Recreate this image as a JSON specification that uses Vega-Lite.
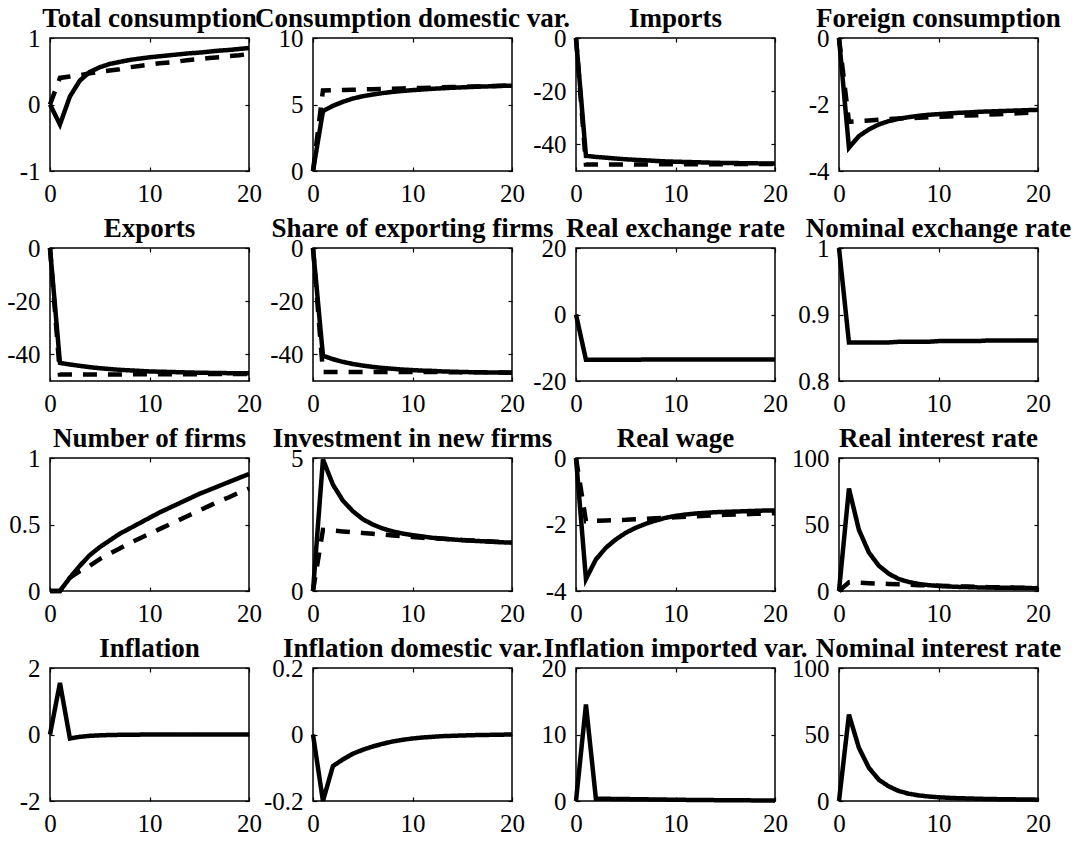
{
"$schema": "https://vega.github.io/schema/vega-lite/v6.json",
"padding": {"left": 5, "top": 4, "right": 0, "bottom": 0},
"columns": 4,
"spacing": {"row": 77, "column": 64},
"bounds": "flush",
"config": {
 "view": {"stroke": "black", "strokeWidth": 1.5},
 "axis": {"domain": false, "grid": false, "tickSize": -4, "tickColor": "black", "tickWidth": 1.2, "labelFont": "Times New Roman, Liberation Serif, serif", "labelFontSize": 25, "labelColor": "black", "labelPadding": 14, "labelOverlap": false, "labelFlush": false},
 "title": {"font": "Times New Roman, Liberation Serif, serif", "fontSize": 27, "fontWeight": "bold", "color": "black", "frame": "group", "baseline": "alphabetic", "offset": -7},
 "line": {"color": "black", "strokeWidth": 4.5}
},
"concat": [
{"title": "Total consumption", "width": 199, "height": 133,
 "data": {"values": [
 {"t":0,"a":0,"b":0},{"t":1,"a":-0.3,"b":0.4},{"t":2,"a":0.12,"b":0.42},{"t":3,"a":0.36,"b":0.44},{"t":4,"a":0.49,"b":0.47},{"t":5,"a":0.56,"b":0.49},{"t":6,"a":0.61,"b":0.51},{"t":7,"a":0.64,"b":0.53},{"t":8,"a":0.67,"b":0.56},{"t":9,"a":0.69,"b":0.58},{"t":10,"a":0.71,"b":0.6},{"t":11,"a":0.725,"b":0.62},{"t":12,"a":0.74,"b":0.63},{"t":13,"a":0.755,"b":0.65},{"t":14,"a":0.77,"b":0.67},{"t":15,"a":0.78,"b":0.68},{"t":16,"a":0.795,"b":0.7},{"t":17,"a":0.81,"b":0.71},{"t":18,"a":0.82,"b":0.73},{"t":19,"a":0.835,"b":0.74},{"t":20,"a":0.85,"b":0.76}]},
 "transform": [{"fold": ["a","b"], "as": ["s","v"]}],
 "layer": [
  {"mark": {"type": "line", "clip": false}, "encoding": {
   "x": {"field": "t", "type": "quantitative", "title": null, "scale": {"domain": [0,20], "nice": false}, "axis": {"values": [0,10,20], "orient": "bottom", "labelExpr": "'' + datum.value"}},
   "y": {"field": "v", "type": "quantitative", "title": null, "scale": {"domain": [-1,1], "nice": false, "zero": false}, "axis": {"values": [-1,0,1], "orient": "left", "labelExpr": "'' + datum.value"}},
   "strokeDash": {"field": "s", "type": "nominal", "legend": null, "scale": {"domain": ["a","b"], "range": [[1,0],[14,11]]}}}},
  {"mark": {"type": "line", "opacity": 0}, "encoding": {
   "x": {"field": "t", "type": "quantitative", "title": null, "axis": {"values": [0,10,20], "orient": "top", "labels": false}},
   "y": {"field": "v", "type": "quantitative", "title": null, "axis": {"values": [-1,0,1], "orient": "right", "labels": false}}}}
 ],
 "resolve": {"axis": {"x": "independent", "y": "independent"}}},
{"title": "Consumption domestic var.", "width": 199, "height": 133,
 "data": {"values": [
 {"t":0,"a":0,"b":0},{"t":1,"a":4.5,"b":6.05},{"t":2,"a":4.9,"b":6.07},{"t":3,"a":5.2,"b":6.09},{"t":4,"a":5.45,"b":6.11},{"t":5,"a":5.62,"b":6.13},{"t":6,"a":5.75,"b":6.15},{"t":7,"a":5.86,"b":6.17},{"t":8,"a":5.95,"b":6.19},{"t":9,"a":6.02,"b":6.21},{"t":10,"a":6.08,"b":6.23},{"t":11,"a":6.13,"b":6.25},{"t":12,"a":6.18,"b":6.27},{"t":13,"a":6.22,"b":6.29},{"t":14,"a":6.26,"b":6.31},{"t":15,"a":6.29,"b":6.33},{"t":16,"a":6.32,"b":6.35},{"t":17,"a":6.35,"b":6.37},{"t":18,"a":6.37,"b":6.39},{"t":19,"a":6.4,"b":6.41},{"t":20,"a":6.42,"b":6.43}]},
 "transform": [{"fold": ["a","b"], "as": ["s","v"]}],
 "layer": [
  {"mark": {"type": "line", "clip": false}, "encoding": {
   "x": {"field": "t", "type": "quantitative", "title": null, "scale": {"domain": [0,20], "nice": false}, "axis": {"values": [0,10,20], "orient": "bottom", "labelExpr": "'' + datum.value"}},
   "y": {"field": "v", "type": "quantitative", "title": null, "scale": {"domain": [0,10], "nice": false, "zero": false}, "axis": {"values": [0,5,10], "orient": "left", "labelExpr": "'' + datum.value"}},
   "strokeDash": {"field": "s", "type": "nominal", "legend": null, "scale": {"domain": ["a","b"], "range": [[1,0],[14,11]]}}}},
  {"mark": {"type": "line", "opacity": 0}, "encoding": {
   "x": {"field": "t", "type": "quantitative", "title": null, "axis": {"values": [0,10,20], "orient": "top", "labels": false}},
   "y": {"field": "v", "type": "quantitative", "title": null, "axis": {"values": [0,5,10], "orient": "right", "labels": false}}}}
 ],
 "resolve": {"axis": {"x": "independent", "y": "independent"}}},
{"title": "Imports", "width": 199, "height": 133,
 "data": {"values": [
 {"t":0,"a":0,"b":0},{"t":1,"a":-44.3,"b":-47.6},{"t":2,"a":-44.7,"b":-47.6},{"t":3,"a":-45.0,"b":-47.6},{"t":4,"a":-45.3,"b":-47.6},{"t":5,"a":-45.6,"b":-47.6},{"t":6,"a":-45.8,"b":-47.6},{"t":7,"a":-46.0,"b":-47.6},{"t":8,"a":-46.2,"b":-47.5},{"t":9,"a":-46.4,"b":-47.5},{"t":10,"a":-46.5,"b":-47.5},{"t":11,"a":-46.6,"b":-47.5},{"t":12,"a":-46.7,"b":-47.5},{"t":13,"a":-46.8,"b":-47.5},{"t":14,"a":-46.9,"b":-47.5},{"t":15,"a":-47.0,"b":-47.4},{"t":16,"a":-47.0,"b":-47.4},{"t":17,"a":-47.1,"b":-47.4},{"t":18,"a":-47.1,"b":-47.4},{"t":19,"a":-47.2,"b":-47.4},{"t":20,"a":-47.2,"b":-47.4}]},
 "transform": [{"fold": ["a","b"], "as": ["s","v"]}],
 "layer": [
  {"mark": {"type": "line", "clip": false}, "encoding": {
   "x": {"field": "t", "type": "quantitative", "title": null, "scale": {"domain": [0,20], "nice": false}, "axis": {"values": [0,10,20], "orient": "bottom", "labelExpr": "'' + datum.value"}},
   "y": {"field": "v", "type": "quantitative", "title": null, "scale": {"domain": [-50,0], "nice": false, "zero": false}, "axis": {"values": [-40,-20,0], "orient": "left", "labelExpr": "'' + datum.value"}},
   "strokeDash": {"field": "s", "type": "nominal", "legend": null, "scale": {"domain": ["a","b"], "range": [[1,0],[14,11]]}}}},
  {"mark": {"type": "line", "opacity": 0}, "encoding": {
   "x": {"field": "t", "type": "quantitative", "title": null, "axis": {"values": [0,10,20], "orient": "top", "labels": false}},
   "y": {"field": "v", "type": "quantitative", "title": null, "axis": {"values": [-40,-20,0], "orient": "right", "labels": false}}}}
 ],
 "resolve": {"axis": {"x": "independent", "y": "independent"}}},
{"title": "Foreign consumption", "width": 199, "height": 133,
 "data": {"values": [
 {"t":0,"a":0,"b":0},{"t":1,"a":-3.3,"b":-2.52},{"t":2,"a":-2.95,"b":-2.5},{"t":3,"a":-2.75,"b":-2.48},{"t":4,"a":-2.6,"b":-2.46},{"t":5,"a":-2.5,"b":-2.44},{"t":6,"a":-2.43,"b":-2.42},{"t":7,"a":-2.38,"b":-2.41},{"t":8,"a":-2.34,"b":-2.4},{"t":9,"a":-2.31,"b":-2.38},{"t":10,"a":-2.29,"b":-2.37},{"t":11,"a":-2.27,"b":-2.36},{"t":12,"a":-2.25,"b":-2.34},{"t":13,"a":-2.24,"b":-2.33},{"t":14,"a":-2.22,"b":-2.32},{"t":15,"a":-2.21,"b":-2.3},{"t":16,"a":-2.2,"b":-2.29},{"t":17,"a":-2.19,"b":-2.28},{"t":18,"a":-2.18,"b":-2.26},{"t":19,"a":-2.17,"b":-2.25},{"t":20,"a":-2.16,"b":-2.24}]},
 "transform": [{"fold": ["a","b"], "as": ["s","v"]}],
 "layer": [
  {"mark": {"type": "line", "clip": false}, "encoding": {
   "x": {"field": "t", "type": "quantitative", "title": null, "scale": {"domain": [0,20], "nice": false}, "axis": {"values": [0,10,20], "orient": "bottom", "labelExpr": "'' + datum.value"}},
   "y": {"field": "v", "type": "quantitative", "title": null, "scale": {"domain": [-4,0], "nice": false, "zero": false}, "axis": {"values": [-4,-2,0], "orient": "left", "labelExpr": "'' + datum.value"}},
   "strokeDash": {"field": "s", "type": "nominal", "legend": null, "scale": {"domain": ["a","b"], "range": [[1,0],[14,11]]}}}},
  {"mark": {"type": "line", "opacity": 0}, "encoding": {
   "x": {"field": "t", "type": "quantitative", "title": null, "axis": {"values": [0,10,20], "orient": "top", "labels": false}},
   "y": {"field": "v", "type": "quantitative", "title": null, "axis": {"values": [-4,-2,0], "orient": "right", "labels": false}}}}
 ],
 "resolve": {"axis": {"x": "independent", "y": "independent"}}},
{"title": "Exports", "width": 199, "height": 133,
 "data": {"values": [
 {"t":0,"a":0,"b":0},{"t":1,"a":-43.2,"b":-47.6},{"t":2,"a":-43.8,"b":-47.6},{"t":3,"a":-44.3,"b":-47.6},{"t":4,"a":-44.8,"b":-47.6},{"t":5,"a":-45.2,"b":-47.6},{"t":6,"a":-45.5,"b":-47.6},{"t":7,"a":-45.8,"b":-47.6},{"t":8,"a":-46.0,"b":-47.5},{"t":9,"a":-46.2,"b":-47.5},{"t":10,"a":-46.4,"b":-47.5},{"t":11,"a":-46.5,"b":-47.5},{"t":12,"a":-46.6,"b":-47.5},{"t":13,"a":-46.7,"b":-47.5},{"t":14,"a":-46.8,"b":-47.5},{"t":15,"a":-46.9,"b":-47.4},{"t":16,"a":-46.95,"b":-47.4},{"t":17,"a":-47.0,"b":-47.4},{"t":18,"a":-47.05,"b":-47.4},{"t":19,"a":-47.1,"b":-47.4},{"t":20,"a":-47.1,"b":-47.4}]},
 "transform": [{"fold": ["a","b"], "as": ["s","v"]}],
 "layer": [
  {"mark": {"type": "line", "clip": false}, "encoding": {
   "x": {"field": "t", "type": "quantitative", "title": null, "scale": {"domain": [0,20], "nice": false}, "axis": {"values": [0,10,20], "orient": "bottom", "labelExpr": "'' + datum.value"}},
   "y": {"field": "v", "type": "quantitative", "title": null, "scale": {"domain": [-50,0], "nice": false, "zero": false}, "axis": {"values": [-40,-20,0], "orient": "left", "labelExpr": "'' + datum.value"}},
   "strokeDash": {"field": "s", "type": "nominal", "legend": null, "scale": {"domain": ["a","b"], "range": [[1,0],[14,11]]}}}},
  {"mark": {"type": "line", "opacity": 0}, "encoding": {
   "x": {"field": "t", "type": "quantitative", "title": null, "axis": {"values": [0,10,20], "orient": "top", "labels": false}},
   "y": {"field": "v", "type": "quantitative", "title": null, "axis": {"values": [-40,-20,0], "orient": "right", "labels": false}}}}
 ],
 "resolve": {"axis": {"x": "independent", "y": "independent"}}},
{"title": "Share of exporting firms", "width": 199, "height": 133,
 "data": {"values": [
 {"t":0,"a":0,"b":0},{"t":1,"a":-40.5,"b":-46.6},{"t":2,"a":-41.8,"b":-46.6},{"t":3,"a":-42.8,"b":-46.6},{"t":4,"a":-43.6,"b":-46.6},{"t":5,"a":-44.2,"b":-46.6},{"t":6,"a":-44.7,"b":-46.6},{"t":7,"a":-45.1,"b":-46.6},{"t":8,"a":-45.4,"b":-46.6},{"t":9,"a":-45.7,"b":-46.6},{"t":10,"a":-45.9,"b":-46.6},{"t":11,"a":-46.1,"b":-46.6},{"t":12,"a":-46.2,"b":-46.6},{"t":13,"a":-46.4,"b":-46.7},{"t":14,"a":-46.5,"b":-46.7},{"t":15,"a":-46.6,"b":-46.7},{"t":16,"a":-46.7,"b":-46.7},{"t":17,"a":-46.75,"b":-46.7},{"t":18,"a":-46.8,"b":-46.7},{"t":19,"a":-46.85,"b":-46.8},{"t":20,"a":-46.9,"b":-46.8}]},
 "transform": [{"fold": ["a","b"], "as": ["s","v"]}],
 "layer": [
  {"mark": {"type": "line", "clip": false}, "encoding": {
   "x": {"field": "t", "type": "quantitative", "title": null, "scale": {"domain": [0,20], "nice": false}, "axis": {"values": [0,10,20], "orient": "bottom", "labelExpr": "'' + datum.value"}},
   "y": {"field": "v", "type": "quantitative", "title": null, "scale": {"domain": [-50,0], "nice": false, "zero": false}, "axis": {"values": [-40,-20,0], "orient": "left", "labelExpr": "'' + datum.value"}},
   "strokeDash": {"field": "s", "type": "nominal", "legend": null, "scale": {"domain": ["a","b"], "range": [[1,0],[14,11]]}}}},
  {"mark": {"type": "line", "opacity": 0}, "encoding": {
   "x": {"field": "t", "type": "quantitative", "title": null, "axis": {"values": [0,10,20], "orient": "top", "labels": false}},
   "y": {"field": "v", "type": "quantitative", "title": null, "axis": {"values": [-40,-20,0], "orient": "right", "labels": false}}}}
 ],
 "resolve": {"axis": {"x": "independent", "y": "independent"}}},
{"title": "Real exchange rate", "width": 199, "height": 133,
 "data": {"values": [
 {"t":0,"a":0},{"t":1,"a":-13.6},{"t":2,"a":-13.6},{"t":3,"a":-13.6},{"t":4,"a":-13.6},{"t":5,"a":-13.6},{"t":6,"a":-13.6},{"t":7,"a":-13.55},{"t":8,"a":-13.55},{"t":9,"a":-13.55},{"t":10,"a":-13.5},{"t":11,"a":-13.5},{"t":12,"a":-13.5},{"t":13,"a":-13.5},{"t":14,"a":-13.5},{"t":15,"a":-13.5},{"t":16,"a":-13.5},{"t":17,"a":-13.5},{"t":18,"a":-13.5},{"t":19,"a":-13.5},{"t":20,"a":-13.5}]},
 "transform": [{"fold": ["a","b"], "as": ["s","v"]}],
 "layer": [
  {"mark": {"type": "line", "clip": false}, "encoding": {
   "x": {"field": "t", "type": "quantitative", "title": null, "scale": {"domain": [0,20], "nice": false}, "axis": {"values": [0,10,20], "orient": "bottom", "labelExpr": "'' + datum.value"}},
   "y": {"field": "v", "type": "quantitative", "title": null, "scale": {"domain": [-20,20], "nice": false, "zero": false}, "axis": {"values": [-20,0,20], "orient": "left", "labelExpr": "'' + datum.value"}},
   "strokeDash": {"field": "s", "type": "nominal", "legend": null, "scale": {"domain": ["a","b"], "range": [[1,0],[14,11]]}}}},
  {"mark": {"type": "line", "opacity": 0}, "encoding": {
   "x": {"field": "t", "type": "quantitative", "title": null, "axis": {"values": [0,10,20], "orient": "top", "labels": false}},
   "y": {"field": "v", "type": "quantitative", "title": null, "axis": {"values": [-20,0,20], "orient": "right", "labels": false}}}}
 ],
 "resolve": {"axis": {"x": "independent", "y": "independent"}}},
{"title": "Nominal exchange rate", "width": 199, "height": 133,
 "data": {"values": [
 {"t":0,"a":1},{"t":1,"a":0.858},{"t":2,"a":0.858},{"t":3,"a":0.858},{"t":4,"a":0.858},{"t":5,"a":0.858},{"t":6,"a":0.859},{"t":7,"a":0.859},{"t":8,"a":0.859},{"t":9,"a":0.859},{"t":10,"a":0.86},{"t":11,"a":0.86},{"t":12,"a":0.86},{"t":13,"a":0.86},{"t":14,"a":0.86},{"t":15,"a":0.861},{"t":16,"a":0.861},{"t":17,"a":0.861},{"t":18,"a":0.861},{"t":19,"a":0.861},{"t":20,"a":0.861}]},
 "transform": [{"fold": ["a","b"], "as": ["s","v"]}],
 "layer": [
  {"mark": {"type": "line", "clip": false}, "encoding": {
   "x": {"field": "t", "type": "quantitative", "title": null, "scale": {"domain": [0,20], "nice": false}, "axis": {"values": [0,10,20], "orient": "bottom", "labelExpr": "'' + datum.value"}},
   "y": {"field": "v", "type": "quantitative", "title": null, "scale": {"domain": [0.8,1], "nice": false, "zero": false}, "axis": {"values": [0.8,0.9,1], "orient": "left", "labelExpr": "'' + datum.value"}},
   "strokeDash": {"field": "s", "type": "nominal", "legend": null, "scale": {"domain": ["a","b"], "range": [[1,0],[14,11]]}}}},
  {"mark": {"type": "line", "opacity": 0}, "encoding": {
   "x": {"field": "t", "type": "quantitative", "title": null, "axis": {"values": [0,10,20], "orient": "top", "labels": false}},
   "y": {"field": "v", "type": "quantitative", "title": null, "axis": {"values": [0.8,0.9,1], "orient": "right", "labels": false}}}}
 ],
 "resolve": {"axis": {"x": "independent", "y": "independent"}}},
{"title": "Number of firms", "width": 199, "height": 133,
 "data": {"values": [
 {"t":0,"a":0,"b":0},{"t":1,"a":0,"b":0},{"t":2,"a":0.1,"b":0.1},{"t":3,"a":0.19,"b":0.15},{"t":4,"a":0.27,"b":0.19},{"t":5,"a":0.33,"b":0.24},{"t":6,"a":0.38,"b":0.28},{"t":7,"a":0.43,"b":0.32},{"t":8,"a":0.47,"b":0.36},{"t":9,"a":0.51,"b":0.395},{"t":10,"a":0.55,"b":0.43},{"t":11,"a":0.59,"b":0.465},{"t":12,"a":0.625,"b":0.5},{"t":13,"a":0.66,"b":0.535},{"t":14,"a":0.695,"b":0.57},{"t":15,"a":0.73,"b":0.605},{"t":16,"a":0.76,"b":0.64},{"t":17,"a":0.79,"b":0.675},{"t":18,"a":0.82,"b":0.705},{"t":19,"a":0.85,"b":0.74},{"t":20,"a":0.88,"b":0.77}]},
 "transform": [{"fold": ["a","b"], "as": ["s","v"]}],
 "layer": [
  {"mark": {"type": "line", "clip": false}, "encoding": {
   "x": {"field": "t", "type": "quantitative", "title": null, "scale": {"domain": [0,20], "nice": false}, "axis": {"values": [0,10,20], "orient": "bottom", "labelExpr": "'' + datum.value"}},
   "y": {"field": "v", "type": "quantitative", "title": null, "scale": {"domain": [0,1], "nice": false, "zero": false}, "axis": {"values": [0,0.5,1], "orient": "left", "labelExpr": "'' + datum.value"}},
   "strokeDash": {"field": "s", "type": "nominal", "legend": null, "scale": {"domain": ["a","b"], "range": [[1,0],[14,11]]}}}},
  {"mark": {"type": "line", "opacity": 0}, "encoding": {
   "x": {"field": "t", "type": "quantitative", "title": null, "axis": {"values": [0,10,20], "orient": "top", "labels": false}},
   "y": {"field": "v", "type": "quantitative", "title": null, "axis": {"values": [0,0.5,1], "orient": "right", "labels": false}}}}
 ],
 "resolve": {"axis": {"x": "independent", "y": "independent"}}},
{"title": "Investment in new firms", "width": 199, "height": 133,
 "data": {"values": [
 {"t":0,"a":0,"b":0},{"t":1,"a":4.95,"b":2.3},{"t":2,"a":4.0,"b":2.27},{"t":3,"a":3.4,"b":2.24},{"t":4,"a":3.0,"b":2.21},{"t":5,"a":2.7,"b":2.18},{"t":6,"a":2.5,"b":2.15},{"t":7,"a":2.35,"b":2.12},{"t":8,"a":2.24,"b":2.09},{"t":9,"a":2.16,"b":2.06},{"t":10,"a":2.1,"b":2.03},{"t":11,"a":2.05,"b":2.0},{"t":12,"a":2.0,"b":1.98},{"t":13,"a":1.97,"b":1.96},{"t":14,"a":1.94,"b":1.94},{"t":15,"a":1.91,"b":1.92},{"t":16,"a":1.89,"b":1.9},{"t":17,"a":1.87,"b":1.88},{"t":18,"a":1.85,"b":1.86},{"t":19,"a":1.83,"b":1.84},{"t":20,"a":1.82,"b":1.82}]},
 "transform": [{"fold": ["a","b"], "as": ["s","v"]}],
 "layer": [
  {"mark": {"type": "line", "clip": false}, "encoding": {
   "x": {"field": "t", "type": "quantitative", "title": null, "scale": {"domain": [0,20], "nice": false}, "axis": {"values": [0,10,20], "orient": "bottom", "labelExpr": "'' + datum.value"}},
   "y": {"field": "v", "type": "quantitative", "title": null, "scale": {"domain": [0,5], "nice": false, "zero": false}, "axis": {"values": [0,5], "orient": "left", "labelExpr": "'' + datum.value"}},
   "strokeDash": {"field": "s", "type": "nominal", "legend": null, "scale": {"domain": ["a","b"], "range": [[1,0],[14,11]]}}}},
  {"mark": {"type": "line", "opacity": 0}, "encoding": {
   "x": {"field": "t", "type": "quantitative", "title": null, "axis": {"values": [0,10,20], "orient": "top", "labels": false}},
   "y": {"field": "v", "type": "quantitative", "title": null, "axis": {"values": [0,5], "orient": "right", "labels": false}}}}
 ],
 "resolve": {"axis": {"x": "independent", "y": "independent"}}},
{"title": "Real wage", "width": 199, "height": 133,
 "data": {"values": [
 {"t":0,"a":0,"b":0},{"t":1,"a":-3.64,"b":-1.9},{"t":2,"a":-3.05,"b":-1.89},{"t":3,"a":-2.7,"b":-1.88},{"t":4,"a":-2.45,"b":-1.87},{"t":5,"a":-2.25,"b":-1.86},{"t":6,"a":-2.1,"b":-1.84},{"t":7,"a":-1.98,"b":-1.83},{"t":8,"a":-1.88,"b":-1.81},{"t":9,"a":-1.8,"b":-1.8},{"t":10,"a":-1.74,"b":-1.78},{"t":11,"a":-1.7,"b":-1.77},{"t":12,"a":-1.67,"b":-1.75},{"t":13,"a":-1.65,"b":-1.74},{"t":14,"a":-1.63,"b":-1.72},{"t":15,"a":-1.62,"b":-1.71},{"t":16,"a":-1.61,"b":-1.7},{"t":17,"a":-1.6,"b":-1.69},{"t":18,"a":-1.59,"b":-1.68},{"t":19,"a":-1.58,"b":-1.67},{"t":20,"a":-1.58,"b":-1.66}]},
 "transform": [{"fold": ["a","b"], "as": ["s","v"]}],
 "layer": [
  {"mark": {"type": "line", "clip": false}, "encoding": {
   "x": {"field": "t", "type": "quantitative", "title": null, "scale": {"domain": [0,20], "nice": false}, "axis": {"values": [0,10,20], "orient": "bottom", "labelExpr": "'' + datum.value"}},
   "y": {"field": "v", "type": "quantitative", "title": null, "scale": {"domain": [-4,0], "nice": false, "zero": false}, "axis": {"values": [-4,-2,0], "orient": "left", "labelExpr": "'' + datum.value"}},
   "strokeDash": {"field": "s", "type": "nominal", "legend": null, "scale": {"domain": ["a","b"], "range": [[1,0],[14,11]]}}}},
  {"mark": {"type": "line", "opacity": 0}, "encoding": {
   "x": {"field": "t", "type": "quantitative", "title": null, "axis": {"values": [0,10,20], "orient": "top", "labels": false}},
   "y": {"field": "v", "type": "quantitative", "title": null, "axis": {"values": [-4,-2,0], "orient": "right", "labels": false}}}}
 ],
 "resolve": {"axis": {"x": "independent", "y": "independent"}}},
{"title": "Real interest rate", "width": 199, "height": 133,
 "data": {"values": [
 {"t":0,"a":0,"b":0},{"t":1,"a":77,"b":6.5},{"t":2,"a":46,"b":6.2},{"t":3,"a":29,"b":5.9},{"t":4,"a":19,"b":5.6},{"t":5,"a":13,"b":5.3},{"t":6,"a":9,"b":5.0},{"t":7,"a":6.8,"b":4.7},{"t":8,"a":5.3,"b":4.4},{"t":9,"a":4.4,"b":4.2},{"t":10,"a":3.8,"b":4.0},{"t":11,"a":3.4,"b":3.7},{"t":12,"a":3.1,"b":3.5},{"t":13,"a":2.9,"b":3.3},{"t":14,"a":2.7,"b":3.1},{"t":15,"a":2.6,"b":2.9},{"t":16,"a":2.5,"b":2.8},{"t":17,"a":2.4,"b":2.6},{"t":18,"a":2.3,"b":2.5},{"t":19,"a":2.2,"b":2.3},{"t":20,"a":2.1,"b":2.2}]},
 "transform": [{"fold": ["a","b"], "as": ["s","v"]}],
 "layer": [
  {"mark": {"type": "line", "clip": false}, "encoding": {
   "x": {"field": "t", "type": "quantitative", "title": null, "scale": {"domain": [0,20], "nice": false}, "axis": {"values": [0,10,20], "orient": "bottom", "labelExpr": "'' + datum.value"}},
   "y": {"field": "v", "type": "quantitative", "title": null, "scale": {"domain": [0,100], "nice": false, "zero": false}, "axis": {"values": [0,50,100], "orient": "left", "labelExpr": "'' + datum.value"}},
   "strokeDash": {"field": "s", "type": "nominal", "legend": null, "scale": {"domain": ["a","b"], "range": [[1,0],[14,11]]}}}},
  {"mark": {"type": "line", "opacity": 0}, "encoding": {
   "x": {"field": "t", "type": "quantitative", "title": null, "axis": {"values": [0,10,20], "orient": "top", "labels": false}},
   "y": {"field": "v", "type": "quantitative", "title": null, "axis": {"values": [0,50,100], "orient": "right", "labels": false}}}}
 ],
 "resolve": {"axis": {"x": "independent", "y": "independent"}}},
{"title": "Inflation", "width": 199, "height": 133,
 "data": {"values": [
 {"t":0,"a":0},{"t":1,"a":1.55},{"t":2,"a":-0.12},{"t":3,"a":-0.07},{"t":4,"a":-0.04},{"t":5,"a":-0.025},{"t":6,"a":-0.015},{"t":7,"a":-0.01},{"t":8,"a":-0.006},{"t":9,"a":-0.004},{"t":10,"a":-0.002},{"t":11,"a":-0.001},{"t":12,"a":0},{"t":13,"a":0},{"t":14,"a":0},{"t":15,"a":0},{"t":16,"a":0},{"t":17,"a":0},{"t":18,"a":0},{"t":19,"a":0},{"t":20,"a":0}]},
 "transform": [{"fold": ["a","b"], "as": ["s","v"]}],
 "layer": [
  {"mark": {"type": "line", "clip": false}, "encoding": {
   "x": {"field": "t", "type": "quantitative", "title": null, "scale": {"domain": [0,20], "nice": false}, "axis": {"values": [0,10,20], "orient": "bottom", "labelExpr": "'' + datum.value"}},
   "y": {"field": "v", "type": "quantitative", "title": null, "scale": {"domain": [-2,2], "nice": false, "zero": false}, "axis": {"values": [-2,0,2], "orient": "left", "labelExpr": "'' + datum.value"}},
   "strokeDash": {"field": "s", "type": "nominal", "legend": null, "scale": {"domain": ["a","b"], "range": [[1,0],[14,11]]}}}},
  {"mark": {"type": "line", "opacity": 0}, "encoding": {
   "x": {"field": "t", "type": "quantitative", "title": null, "axis": {"values": [0,10,20], "orient": "top", "labels": false}},
   "y": {"field": "v", "type": "quantitative", "title": null, "axis": {"values": [-2,0,2], "orient": "right", "labels": false}}}}
 ],
 "resolve": {"axis": {"x": "independent", "y": "independent"}}},
{"title": "Inflation domestic var.", "width": 199, "height": 133,
 "data": {"values": [
 {"t":0,"a":0},{"t":1,"a":-0.2},{"t":2,"a":-0.095},{"t":3,"a":-0.075},{"t":4,"a":-0.058},{"t":5,"a":-0.046},{"t":6,"a":-0.036},{"t":7,"a":-0.028},{"t":8,"a":-0.021},{"t":9,"a":-0.016},{"t":10,"a":-0.012},{"t":11,"a":-0.009},{"t":12,"a":-0.007},{"t":13,"a":-0.005},{"t":14,"a":-0.004},{"t":15,"a":-0.003},{"t":16,"a":-0.002},{"t":17,"a":-0.0015},{"t":18,"a":-0.001},{"t":19,"a":-0.0005},{"t":20,"a":0}]},
 "transform": [{"fold": ["a","b"], "as": ["s","v"]}],
 "layer": [
  {"mark": {"type": "line", "clip": false}, "encoding": {
   "x": {"field": "t", "type": "quantitative", "title": null, "scale": {"domain": [0,20], "nice": false}, "axis": {"values": [0,10,20], "orient": "bottom", "labelExpr": "'' + datum.value"}},
   "y": {"field": "v", "type": "quantitative", "title": null, "scale": {"domain": [-0.2,0.2], "nice": false, "zero": false}, "axis": {"values": [-0.2,0,0.2], "orient": "left", "labelExpr": "'' + datum.value"}},
   "strokeDash": {"field": "s", "type": "nominal", "legend": null, "scale": {"domain": ["a","b"], "range": [[1,0],[14,11]]}}}},
  {"mark": {"type": "line", "opacity": 0}, "encoding": {
   "x": {"field": "t", "type": "quantitative", "title": null, "axis": {"values": [0,10,20], "orient": "top", "labels": false}},
   "y": {"field": "v", "type": "quantitative", "title": null, "axis": {"values": [-0.2,0,0.2], "orient": "right", "labels": false}}}}
 ],
 "resolve": {"axis": {"x": "independent", "y": "independent"}}},
{"title": "Inflation imported var.", "width": 199, "height": 133,
 "data": {"values": [
 {"t":0,"a":0},{"t":1,"a":14.5},{"t":2,"a":0.35},{"t":3,"a":0.33},{"t":4,"a":0.31},{"t":5,"a":0.29},{"t":6,"a":0.27},{"t":7,"a":0.25},{"t":8,"a":0.23},{"t":9,"a":0.21},{"t":10,"a":0.19},{"t":11,"a":0.17},{"t":12,"a":0.15},{"t":13,"a":0.14},{"t":14,"a":0.13},{"t":15,"a":0.12},{"t":16,"a":0.11},{"t":17,"a":0.1},{"t":18,"a":0.09},{"t":19,"a":0.08},{"t":20,"a":0.07}]},
 "transform": [{"fold": ["a","b"], "as": ["s","v"]}],
 "layer": [
  {"mark": {"type": "line", "clip": false}, "encoding": {
   "x": {"field": "t", "type": "quantitative", "title": null, "scale": {"domain": [0,20], "nice": false}, "axis": {"values": [0,10,20], "orient": "bottom", "labelExpr": "'' + datum.value"}},
   "y": {"field": "v", "type": "quantitative", "title": null, "scale": {"domain": [0,20], "nice": false, "zero": false}, "axis": {"values": [0,10,20], "orient": "left", "labelExpr": "'' + datum.value"}},
   "strokeDash": {"field": "s", "type": "nominal", "legend": null, "scale": {"domain": ["a","b"], "range": [[1,0],[14,11]]}}}},
  {"mark": {"type": "line", "opacity": 0}, "encoding": {
   "x": {"field": "t", "type": "quantitative", "title": null, "axis": {"values": [0,10,20], "orient": "top", "labels": false}},
   "y": {"field": "v", "type": "quantitative", "title": null, "axis": {"values": [0,10,20], "orient": "right", "labels": false}}}}
 ],
 "resolve": {"axis": {"x": "independent", "y": "independent"}}},
{"title": "Nominal interest rate", "width": 199, "height": 133,
 "data": {"values": [
 {"t":0,"a":0},{"t":1,"a":65},{"t":2,"a":40},{"t":3,"a":25},{"t":4,"a":16},{"t":5,"a":11},{"t":6,"a":7.5},{"t":7,"a":5.5},{"t":8,"a":4.2},{"t":9,"a":3.4},{"t":10,"a":2.8},{"t":11,"a":2.4},{"t":12,"a":2.1},{"t":13,"a":1.9},{"t":14,"a":1.7},{"t":15,"a":1.5},{"t":16,"a":1.4},{"t":17,"a":1.3},{"t":18,"a":1.2},{"t":19,"a":1.1},{"t":20,"a":1.0}]},
 "transform": [{"fold": ["a","b"], "as": ["s","v"]}],
 "layer": [
  {"mark": {"type": "line", "clip": false}, "encoding": {
   "x": {"field": "t", "type": "quantitative", "title": null, "scale": {"domain": [0,20], "nice": false}, "axis": {"values": [0,10,20], "orient": "bottom", "labelExpr": "'' + datum.value"}},
   "y": {"field": "v", "type": "quantitative", "title": null, "scale": {"domain": [0,100], "nice": false, "zero": false}, "axis": {"values": [0,50,100], "orient": "left", "labelExpr": "'' + datum.value"}},
   "strokeDash": {"field": "s", "type": "nominal", "legend": null, "scale": {"domain": ["a","b"], "range": [[1,0],[14,11]]}}}},
  {"mark": {"type": "line", "opacity": 0}, "encoding": {
   "x": {"field": "t", "type": "quantitative", "title": null, "axis": {"values": [0,10,20], "orient": "top", "labels": false}},
   "y": {"field": "v", "type": "quantitative", "title": null, "axis": {"values": [0,50,100], "orient": "right", "labels": false}}}}
 ],
 "resolve": {"axis": {"x": "independent", "y": "independent"}}}
]
}
